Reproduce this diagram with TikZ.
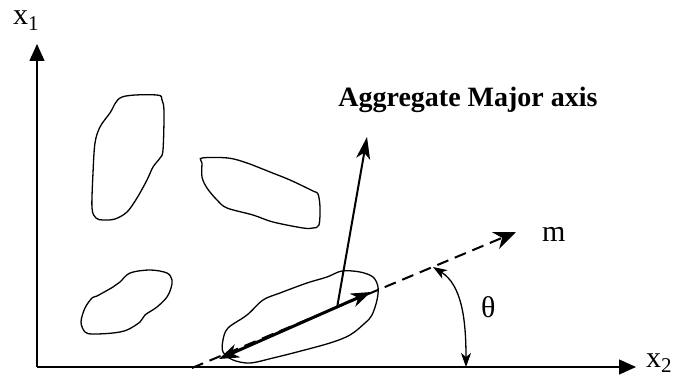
\documentclass[tikz,border=0pt]{standalone}
\usepackage{fontspec}
\setmainfont{Liberation Serif}
\usetikzlibrary{arrows.meta}
\begin{document}
\begin{tikzpicture}[x=1pt,y=-1pt,
  axisline/.style={line width=1.4pt,-{Triangle[length=17pt,width=15pt]}},
  blob/.style={line width=1.3pt,smooth cycle,tension=0.55},
  mline/.style={line width=2pt,dash pattern=on 12pt off 7pt,-{Stealth[length=22pt,width=18pt,inset=7pt]}},
  majorvec/.style={line width=3pt,{Stealth[length=20pt,width=14pt,inset=6pt]}-{Stealth[length=20pt,width=14pt,inset=6pt]}},
  perpvec/.style={line width=2pt,-{Stealth[length=22pt,width=14pt,inset=6pt]}},
  anglearc/.style={line width=1.3pt,{Stealth[length=14pt,width=10pt,inset=4pt]}-{Stealth[length=14pt,width=10pt,inset=4pt]}},
  lbl/.style={font=\fontsize{30}{30}\selectfont,inner sep=0pt,anchor=base west},
  title/.style={font=\bfseries\fontsize{28}{28}\selectfont,inner sep=0pt,anchor=base}]
\useasboundingbox (0,0) rectangle (673,377);
% axes
\coordinate (O) at (37,367);
\coordinate (Ytip) at (37,44);
\coordinate (Xtip) at (636,367);
\draw[axisline] (O) -- (Ytip);
\draw[axisline] (O) -- (Xtip);
\node[lbl] (x1) at (13,25) {x\textsubscript{1}};
\node[lbl] (x2) at (646,367) {x\textsubscript{2}};
% blobs
\draw[blob] plot coordinates {(122,97) (157,95) (162,100) (164,112) (163,150) (160,158) (153,167) (147,180) (137,198) (127,212) (115,219) (103,220) (96,218) (92,208) (93,173) (95,143) (100,127) (110,113)};
\draw[blob] plot coordinates {(202,158) (228,158) (247,163) (270,172) (290,180) (313,191) (318,194) (320,207) (319,225) (313,228) (303,228) (273,222) (253,215) (227,208) (217,200) (207,188) (202,177) (202,163)};
\draw[blob] plot coordinates {(150,270) (167,273) (172,280) (171,288) (167,297) (157,307) (145,315) (140,322) (127,330) (113,333) (93,334) (85,332) (81,322) (85,308) (92,298) (97,296) (113,287) (120,282) (130,273)};
\draw[blob] plot coordinates {(342,271) (360,272) (373,277) (378,287) (377,300) (372,315) (365,323) (350,335) (330,343) (297,352) (273,358) (250,363) (233,360) (223,352) (223,340) (228,328) (247,315) (263,300) (280,293) (307,283) (327,277)};
% m direction
\coordinate (mstart) at (192,368);
\coordinate (mtip) at (516,232);
\draw[mline] (mstart) -- (mtip);
\node[lbl] (m) at (542,242) {m};
% aggregate major axis vectors
\coordinate (va) at (219,359);
\coordinate (vb) at (371,292);
\draw[majorvec] (va) -- (vb);
\coordinate (pbase) at (337,308);
\coordinate (ptip) at (367,137);
\draw[perpvec] (pbase) -- (ptip);
\node[title] (agg) at (468,107) {Aggregate Major axis};
% angle
\coordinate (a1) at (433,267);
\coordinate (a2) at (466,367);
\draw[anglearc] (a1) .. controls (462,285) and (466,320) .. (a2);
\node[lbl] (theta) at (481,317) {θ};
\end{tikzpicture}
\end{document}
